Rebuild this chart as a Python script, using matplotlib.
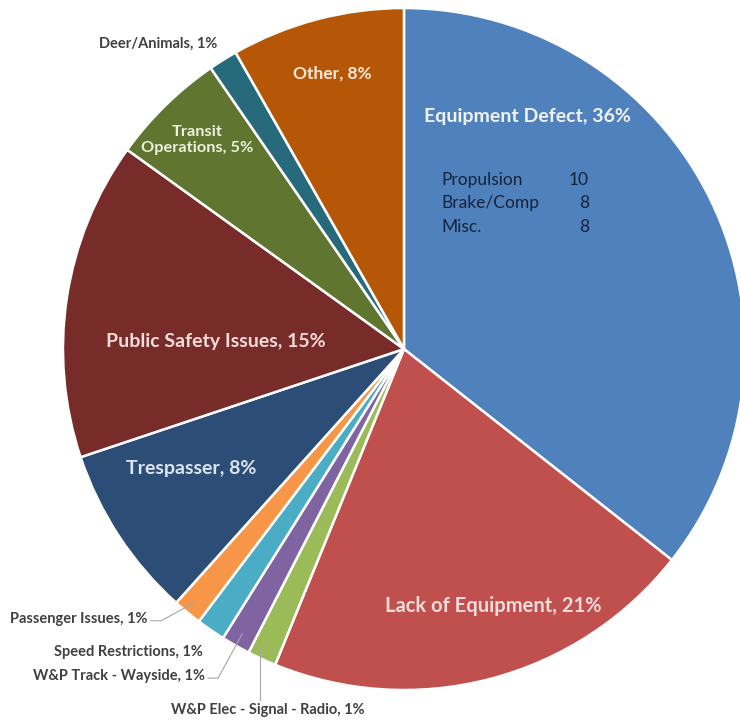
import numpy as np
import matplotlib
matplotlib.use("Agg")
import matplotlib.pyplot as plt

plt.rcParams['font.family'] = ['Lato', 'DejaVu Sans']

# === Data ===
categories = ["Equipment Defect", "Lack of Equipment", "W&P Elec - Signal - Radio",
              "W&P Track - Wayside", "Speed Restrictions", "Passenger Issues",
              "Trespasser", "Public Safety Issues", "Transit Operations",
              "Deer/Animals", "Other"]
counts = [26, 15, 1, 1, 1, 1, 6, 11, 4, 1, 6]
colors = ["#4F81BD", "#C0504D", "#9BBB59", "#8064A2", "#4BACC6", "#F79646",
          "#2C4D75", "#772C2A", "#5F7530", "#276A7C", "#B65708"]

defect_parts = ["Propulsion", "Brake/Comp", "Misc."]
defect_counts = [10, 8, 8]

pct = [round(100 * c / sum(counts)) for c in counts]

fig = plt.figure(figsize=(7.4, 7.22), dpi=100)
ax = fig.add_axes([0.0851, 0.0443, 0.9216, 0.9446])
wedges, _ = ax.pie(counts, colors=colors, startangle=90, counterclock=False,
                   wedgeprops=dict(edgecolor="white", linewidth=1.8))
ax.set_xlim(-1, 1)
ax.set_ylim(-1, 1)
ax.set_aspect("equal")
ax.axis("off")

def lab(i):
    return f"{categories[i]}, {pct[i]}%"

# inside labels (position, colour, size)
inside = {
    0: ((0.361, 0.683), "#F2F2F2", 14),
    1: ((0.261, -0.754), "#F2DCDB", 14.5),
    6: ((-0.625, -0.349), "#DCE6F2", 14),
    7: ((-0.551, 0.023), "#F2DCDB", 14),
    10: ((-0.211, 0.809), "#FDE9D9", 12.5),
}
for i, (pos, col, fs) in inside.items():
    ax.text(pos[0], pos[1], lab(i), ha="center", va="center", color=col,
            fontsize=fs, fontweight="bold")

ax.text(-0.607, 0.613, "Transit\nOperations, " + f"{pct[8]}%", ha="center", va="center",
        color="#EBF1DE", fontsize=11.8, fontweight="bold", linespacing=1.25)

ax.text(-0.721, 0.894, lab(9), ha="center", va="center", color="#404040",
        fontsize=10.5, fontweight="bold")

# Equipment Defect breakdown
for k, (name, n) in enumerate(zip(defect_parts, defect_counts)):
    y = 0.496 - k * 0.069
    ax.text(0.1085, y, name, ha="left", va="center", color="#17233A", fontsize=12.5)
    ax.text(0.543, y, str(n), ha="right", va="center", color="#17233A", fontsize=12.5)

# outside labels with leader lines
theta = []
acc = 0
for c in counts:
    mid = 90 - 360 * (acc + c / 2) / sum(counts)
    theta.append(np.deg2rad(mid))
    acc += c

outside = {
    5: ((-0.751, -0.792), "right", (-0.742, -0.797)),
    4: ((-0.589, -0.889), "right", None),
    3: ((-0.584, -0.959), "right", (-0.575, -0.965)),
    2: ((-0.399, -1.059), "center", (-0.423, -1.030)),
}
for i, (pos, ha, start) in outside.items():
    ax.text(pos[0], pos[1], lab(i), ha=ha, va="center", color="#404040",
            fontsize=10.5, fontweight="bold")
    if start is not None:
        ex, ey = 0.96 * np.cos(theta[i]), 0.96 * np.sin(theta[i])
        if i == 2:
            ax.plot([start[0], start[0]], [start[1], ey], color="#A6A6A6", lw=0.8, clip_on=False)
        else:
            mx = start[0] + 0.03
            ax.plot([start[0], mx, ex], [start[1], start[1], ey], color="#A6A6A6", lw=0.8, clip_on=False)

fig.savefig("out.png", dpi=100, facecolor="white")
